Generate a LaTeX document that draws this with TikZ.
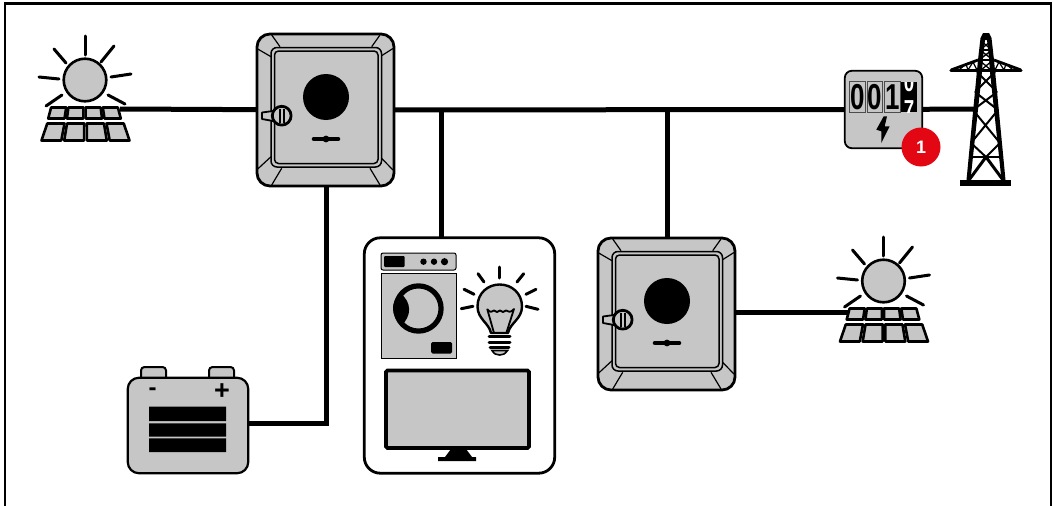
\documentclass[tikz,border=0pt]{standalone}
\usepackage{fontspec}
\setmainfont{Liberation Sans}
\definecolor{devgray}{HTML}{C6C6C6}
\definecolor{badgered}{HTML}{E30613}
\tikzset{
  wire/.style={line width=5pt,black,line join=miter},
  outl/.style={line width=2.8pt,black,line join=round,fill=devgray},
  ray/.style={line width=3pt,black,line cap=round},
  thinl/.style={line width=1.5pt,black},
  anchorpt/.style={inner sep=0pt,minimum size=0pt},
  panelcell/.style={line width=2.6pt,black,fill=devgray,line join=round},
  digit/.style={font=\bfseries\fontsize{36}{36}\selectfont,inner sep=0pt,black,xscale=.72},
  pv/.pic={
    \foreach \a/\b/\c/\d in {0/-44/0/-25,29/-34/16/-18,-31/-31/-19/-17,46/-6/26/-3,-46/-3/-26/-1,40/24/23/15,-39/26/-23/15}
      \draw[ray] (\a,\b) -- (\c,\d);
    \draw[outl,line width=2.6pt] (0,0) circle (21.3);
    \foreach \i in {0,1,2,3}{
      \pgfmathsetmacro\fa{\i/4+0.016}
      \pgfmathsetmacro\fb{(\i+1)/4-0.016}
      \draw[panelcell] ({-35+69*\fa},27.5) -- ({-35+69*\fb},27.5) -- ({-38+75*\fb},38.5) -- ({-38+75*\fa},38.5) -- cycle;
      \draw[panelcell] ({-39+79*\fa},43.5) -- ({-39+79*\fb},43.5) -- ({-45+91*\fb},60.5) -- ({-45+91*\fa},60.5) -- cycle;
    }
  },
  inverter/.pic={
    \draw[outl,rounded corners=13pt] (0,0) rectangle (137,152);
    \draw[line width=1.2pt] (14.7,1) -- (23,12.7) (.7,15) -- (14,22.7);
    \draw[line width=1.2pt] (123,1) -- (114.7,12.7) (136.3,14.3) -- (123,22.7);
    \draw[line width=1.2pt] (.7,135) -- (14,122.7) (24.7,134.3) -- (14.7,151);
    \draw[line width=1.2pt] (113,134.3) -- (123,151) (136,136) -- (123,122.7);
    \draw[thinl,fill=devgray,rounded corners=6pt] (14,13.5) rectangle (124.5,133);
    \draw[thinl,fill=devgray,rounded corners=4pt] (17.5,17) rectangle (121,129.5);
    \fill[black] (69,63) circle (23);
    \draw[line width=4.6pt,line cap=round] (57,105) -- (81,105);
    \fill[black] (69,105) circle (3.4);
    \draw[line width=1.8pt,fill=devgray,line join=round] (5,78.5) -- (16,77) -- (16,87) -- (5,85) -- cycle;
    \draw[outl,line width=2.8pt] (24.7,81.7) circle (9.4);
    \draw[line width=2pt] (22.8,75) -- (22.8,88.5) (27,75) -- (27,88.5);
  }
}
\begin{document}
\begin{tikzpicture}[x=1pt,y=-1pt]
\useasboundingbox (0,0) rectangle (1053,506);
\begin{scope}
\clip (0,0) rectangle (1053,506);
\draw[line width=2.6pt,black] (5,515) -- (5,3.2) -- (1051,3.2) -- (1051,515);
\end{scope}
% anchors
\node[anchorpt] (pva) at (120,109) {};
\node[anchorpt,minimum width=137pt,minimum height=152pt] (inva) at (325.5,110) {};
\node[anchorpt,minimum width=137pt,minimum height=152pt] (invb) at (666.5,314) {};
\node[anchorpt,minimum width=77pt,minimum height=77pt] (meter) at (883.5,109.5) {};
\node[anchorpt] (tower) at (975,109) {};
\node[anchorpt] (tapa) at (441,109) {};
\node[anchorpt] (tapb) at (667,109) {};
\node[anchorpt,minimum width=190pt,minimum height=235pt] (loads) at (459.5,355.5) {};
\node[anchorpt,minimum width=120pt,minimum height=95pt] (batt) at (188,425.5) {};
\node[anchorpt] (pvb) at (850,312.5) {};
\coordinate (bend) at (326,423.5);
% connectors
\draw[wire] (pva) -- (inva);
\draw[wire] (inva) -- (meter);
\draw[wire] (meter) -- (tower);
\draw[wire] (tapa) -- (tapa |- loads.north);
\draw[wire] (tapb) -- (tapb |- invb.north);
\draw[wire] (inva.south -| bend) -- (bend) -- (batt.east |- bend);
\draw[wire] (invb.east |- pvb) -- (pvb);
% PV
\pic at (85,80) {pv};
\pic at (883.5,281) {pv};
% Inverters
\pic at (257,34) {inverter};
\pic at (598,238) {inverter};
% Meter
\draw[outl,line width=1.8pt,rounded corners=7pt] (meter.north west) rectangle (meter.south east);
\foreach \xa/\lab in {849.5/0,867/0,884.5/1}{
  \draw[line width=.8pt,black!70,fill=devgray] (\xa,81.8) rectangle ++(15.6,30.5);
  \node[digit] (dig\xa) at (\xa+7.8,97) {\lab};
}
\fill[black] (901,81.8) rectangle (917,112.3);
\begin{scope}
\clip (901,82) rectangle (917,92);
\node[digit,text=white,font=\bfseries\fontsize{26}{26}\selectfont] (rolla) at (909,83) {0};
\end{scope}
\begin{scope}
\clip (901,100) rectangle (917,112);
\node[digit,text=white,font=\bfseries\fontsize{26}{26}\selectfont] (rollb) at (909,110) {7};
\end{scope}
\fill[black] (883.7,116.3) -- (876.3,129.7) -- (881.3,131.3) -- (881.3,143) -- (889.7,126.3) -- (884.7,126.3) -- (887,116.3) -- cycle;
\node[circle,fill=badgered,minimum size=39pt,inner sep=0pt,text=white,font=\bfseries\fontsize{18}{18}\selectfont] (badge) at (921,147) {1};
% Tower
\begin{scope}[line join=miter]
\fill[black] (960,179.5) rectangle (1011,186);
\fill[black] (983,33) -- (989,33) -- (991.5,38) -- (994,60) -- (1005.5,180) -- (1001.5,180) -- (990,72) -- (989,58) -- (987,40) -- (985,40) -- (983,58) -- (982,72) -- (970.5,180) -- (966.5,180) -- (978,60) -- (980.5,38) -- cycle;
\draw[line width=3.4pt,line cap=round] (951,70.7) -- (1021,70.7);
\draw[line width=2.8pt] (951,70) -- (978,60) (1021,70) -- (994,60);
\draw[line width=1.6pt] (979,60) -- (993,60) (980,50) -- (992,50);
\draw[line width=1.3pt] (981,41) -- (992,50) (991,41) -- (980,50) (980,50) -- (993,60) (992,50) -- (979,60) (979,60) -- (992,71) (993,60) -- (980,71);
\draw[line width=1.2pt] (959,70) -- (966,64) -- (968,70) -- (973,62) -- (977,70) (1013,70) -- (1006,64) -- (1004,70) -- (999,62) -- (995,70);
\draw[line width=2pt] (977,72) -- (997,92) (995,72) -- (975,92) (975,92) -- (998,110) (997,92) -- (973,110) (973,110) -- (1000,143) (998,110) -- (971,143) (971,143) -- (986,157) (1000,143) -- (986,157);
\draw[line width=2.4pt] (970,157) -- (1002,157);
\draw[line width=3pt] (986,157) -- (969,180) (986,157) -- (1003,180);
\end{scope}
% Loads
\draw[line width=2.8pt,black,fill=white,rounded corners=16pt] (loads.north west) rectangle (loads.south east);
\draw[line width=1pt,black,fill=devgray,rounded corners=2pt] (381,253) rectangle (456,270);
\fill[black,rounded corners=1pt] (384,256) rectangle (404.5,267);
\fill[black] (423.5,261.7) circle (3.2) (434,261.7) circle (3.2) (444.5,261.7) circle (3.6);
\draw[line width=1pt,black,fill=devgray] (381,273) rectangle (456,358);
\draw[line width=5.2pt,black] (418.5,308.5) circle (22.6);
\fill[black] (400,293) .. controls (390,303) and (391,315) .. (401,326) .. controls (412,316) and (412,302) .. (400,293) -- cycle;
\fill[black,rounded corners=1.5pt] (431,342) rectangle (452,353.5);
% Bulb
\foreach \a/\b/\c/\d in {499.7/267/499.7/278,478/273.7/484/282,523.7/273.7/517/282,464/289.3/474/294.3,536/289.3/526/294.3,461.3/308.7/473/306.3,538/309.3/526/306.3}
  \draw[ray] (\a,\b) -- (\c,\d);
\draw[outl,line width=2.4pt] (491,333) .. controls (489,323) and (477.5,319) .. (477.5,306.5) .. controls (477.5,293) and (488,284.5) .. (499.7,284.5) .. controls (511.5,284.5) and (522,293) .. (522,306.5) .. controls (522,319) and (510,323) .. (508,333) -- cycle;
\draw[line width=1.8pt,black,line join=round] (494,333) -- (487.3,309.3) .. controls (490,312.5) and (492,312.5) .. (494,310.5) .. controls (496,312.5) and (498,312.5) .. (500,310.5) .. controls (502,312.5) and (504,312.5) .. (506,310.5) .. controls (508,312.5) and (511,312.5) .. (514,309) -- (506.3,333);
\draw[line width=3pt,line cap=round] (489,336.5) -- (510,336.5) (489,342) -- (510,342) (490,347.3) -- (509,347.3);
\draw[line width=1.6pt,fill=devgray] (492,350.5) -- (507.5,350.5) .. controls (505,354) and (503,355) .. (499.7,355) .. controls (496.5,355) and (494,354) .. (492,350.5) -- cycle;
% TV
\draw[line width=3.6pt,black,fill=devgray,rounded corners=1.5pt] (386,370.5) rectangle (529,448);
\fill[black] (451,449) -- (466,449) -- (472,457) -- (476,457) -- (476,461) -- (438,461) -- (438,457) -- (445,457) -- cycle;
% Battery
\draw[outl,line width=2pt,rounded corners=3.5pt] (141,378) -- (141,367) -- (166,367) -- (166,378);
\draw[outl,line width=2pt,rounded corners=3.5pt] (209,378) -- (209,367) -- (234,367) -- (234,378);
\draw[outl,line width=2.2pt,rounded corners=11pt] (batt.north west) rectangle (batt.south east);
\fill[black] (149,406.7) rectangle (226,421) (149,423.3) rectangle (226,436.7) (149,438.3) rectangle (226,452);
\node[inner sep=0pt,font=\bfseries\fontsize{24}{24}\selectfont] (minus) at (152.5,392) {-};
\node[inner sep=0pt,font=\bfseries\fontsize{27}{27}\selectfont] (plus) at (222,391.5) {+};
\end{tikzpicture}
\end{document}
